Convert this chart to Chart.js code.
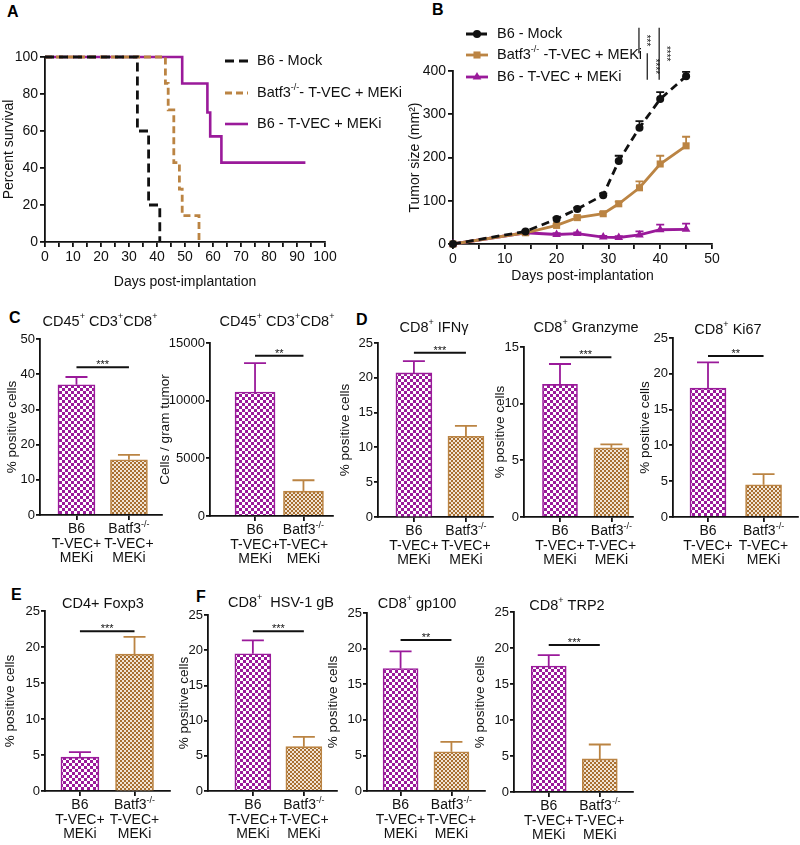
<!DOCTYPE html>
<html>
<head>
<meta charset="utf-8">
<script src="https://cdn.jsdelivr.net/npm/chart.js@4.4.1/dist/chart.umd.min.js"></script>
<style>
  body { margin: 0; background: #fff; font-family: "Liberation Sans", Arial, sans-serif; }
  #fig { position: relative; width: 800px; height: 845px; overflow: hidden; }
  #fig canvas { position: absolute; }
  .lbl { position: absolute; font-weight: bold; font-size: 16px; line-height: 16px; color: #000; }
</style>
</head>
<body>
<div id="fig">
  <div class="lbl" style="left:7px;top:4px">A</div>
  <div class="lbl" style="left:432px;top:2px">B</div>
  <div class="lbl" style="left:9px;top:310px">C</div>
  <div class="lbl" style="left:356px;top:312px">D</div>
  <div class="lbl" style="left:11px;top:587px">E</div>
  <div class="lbl" style="left:196px;top:589px">F</div>
</div>
<script>
const FONT = '"Liberation Sans", Arial, Helvetica, sans-serif';
const BLACK = '#111';
const PURPLE = '#9a1a9a';
const BROWN = '#bb8443';

// A - Kaplan-Meier survival
const survLabels = ['B6 - Mock', 'Batf3^{-/-}- T-VEC + MEKi', 'B6 - T-VEC + MEKi'];
const survMockDays = [0, 33, 37, 41];
const survMock = [100, 60, 20, 0];
const survBatfDays = [0, 43, 44, 46, 48, 49, 55];
const survBatf = [100, 85.7, 71.4, 42.9, 28.6, 14.3, 0];
const survTvecDays = [0, 49, 58, 59, 63, 93];
const survTvec = [100, 85.7, 70, 57.1, 42.9, 42.9];

// B - tumour growth
const tumorLabels = ['B6 - Mock', 'Batf3^{-/-} -T-VEC + MEKi', 'B6 - T-VEC + MEKi'];
const tumorDays = [0, 14, 20, 24, 29, 32, 36, 40, 45];
const tumorMock = [0, 29, 58, 81, 113, 192, 269, 335, 388];
const tumorMockErr = [0, 2, 3, 3, 4, 12, 15, 16, 10];
const tumorBatf = [0, 26, 43, 61, 70, 93, 130, 185, 227];
const tumorBatfErr = [0, 2, 3, 3, 4, 5, 15, 19, 21];
const tumorTvec = [0, 26, 22, 24, 16, 15, 21, 33, 34];
const tumorTvecErr = [0, 2, 3, 3, 3, 3, 8, 12, 13];
// significance brackets (days / mm2)
const tumorSigDay = [35.9, 37.5, 39.8];
const tumorSigFrom = [500, 441, 500];
const tumorSigTo = [441, 380, 380];
const tumorSigStars = ['***', '****', '****'];

// C-F - bar panels
const groupLabels = [['B6', 'T-VEC+', 'MEKi'], ['Batf3^{-/-}', 'T-VEC+', 'MEKi']];
const cd8PctMean = [37.0, 15.7], cd8PctErr = [2.2, 1.4];
const cd8CountMean = [10750, 2150], cd8CountErr = [2500, 950];
const ifngMean = [20.7, 11.6], ifngErr = [1.7, 1.5];
const gzmMean = [11.7, 6.1], gzmErr = [1.8, 0.3];
const ki67Mean = [18.0, 4.5], ki67Err = [3.6, 1.5];
const foxp3Mean = [4.7, 19.0], foxp3Err = [0.7, 2.4];
const gbMean = [19.5, 6.3], gbErr = [1.9, 1.4];
const gp100Mean = [17.2, 5.5], gp100Err = [2.4, 1.4];
const trp2Mean = [17.5, 4.6], trp2Err = [1.5, 2.0];

const fig = document.getElementById('fig');

function addCanvas(x, y, w, h) {
  const c = document.createElement('canvas');
  c.width = w; c.height = h;
  c.style.left = x + 'px'; c.style.top = y + 'px';
  c.style.width = w + 'px'; c.style.height = h + 'px';
  fig.appendChild(c);
  return c;
}

function checker(color, cell, light) {
  const c = document.createElement('canvas');
  c.width = c.height = cell * 2;
  const g = c.getContext('2d');
  g.fillStyle = light;
  g.fillRect(0, 0, cell * 2, cell * 2);
  g.fillStyle = color;
  g.fillRect(0, 0, cell, cell);
  g.fillRect(cell, cell, cell, cell);
  return g.createPattern(c, 'repeat');
}
const purpleFill = checker(PURPLE, 3, '#fff');
const brownFill = checker('#a86f30', 2, '#f1e4d4');

// text with ^{sup} parts
function rich(ctx, str, x, y, size, align) {
  const parts = str.split(/\^\{(.*?)\}/);
  const big = size + 'px ' + FONT, small = Math.round(size * 0.62) + 'px ' + FONT;
  let w = 0;
  parts.forEach((p, i) => { ctx.font = i % 2 ? small : big; w += ctx.measureText(p).width; });
  let px = align === 'left' ? x : x - w / 2;
  ctx.textAlign = 'left';
  ctx.textBaseline = 'middle';
  ctx.fillStyle = BLACK;
  parts.forEach((p, i) => {
    ctx.font = i % 2 ? small : big;
    ctx.fillText(p, px, i % 2 ? y - size * 0.38 : y);
    px += ctx.measureText(p).width;
  });
}

const pts = (xs, ys) => xs.map((x, i) => ({ x: x, y: ys[i] }));

const axisGrid = { drawOnChartArea: false, drawTicks: true, tickLength: 5, color: BLACK, lineWidth: 1.8 };
const axisBorder = { color: BLACK, width: 1.8 };
const tickFont = { family: FONT, size: 14 };
const titleFont = { family: FONT, size: 14 };

Chart.defaults.font.family = FONT;
Chart.defaults.color = BLACK;

// ---------- A ----------
const cvA = addCanvas(0, 42, 430, 249);
new Chart(cvA, {
  type: 'line',
  data: {
    datasets: [
      { data: pts(survMockDays, survMock), borderColor: BLACK, borderDash: [9, 5], borderWidth: 2.8 },
      { data: pts(survBatfDays, survBatf), borderColor: BROWN, borderDash: [7, 4], borderWidth: 2.8 },
      { data: pts(survTvecDays, survTvec), borderColor: PURPLE, borderWidth: 2.6 }
    ].map(d => Object.assign(d, { stepped: 'before', pointRadius: 0, clip: false, fill: false }))
  },
  options: {
    responsive: false, animation: false,
    layout: { padding: { top: 15, right: 105, left: 0, bottom: 0 } },
    plugins: { legend: { display: false }, tooltip: { enabled: false } },
    scales: {
      x: {
        type: 'linear', min: 0, max: 100,
        afterFit: s => { s.height = 49; },
        grid: axisGrid, border: axisBorder,
        ticks: { stepSize: 5, autoSkip: false, maxRotation: 0, font: tickFont, color: BLACK, padding: 2,
          callback: v => (v % 10 === 0 ? String(v) : '') },
        title: { display: true, text: 'Days post-implantation', font: titleFont, color: BLACK, padding: { top: 0, bottom: 0 } }
      },
      y: {
        min: 0, max: 100,
        afterFit: s => { s.width = 45; },
        grid: axisGrid, border: axisBorder,
        ticks: { stepSize: 20, font: tickFont, color: BLACK, padding: 2 },
        title: { display: true, text: 'Percent survival', font: titleFont, color: BLACK, padding: { top: 0.6, bottom: 0 } }
      }
    }
  },
  plugins: [{
    id: 'legendA',
    afterDraw(chart) {
      const ctx = chart.ctx;
      const rows = [19, 51, 82];
      ctx.save();
      chart.data.datasets.forEach((ds, i) => {
        ctx.strokeStyle = ds.borderColor;
        ctx.lineWidth = ds.borderWidth;
        ctx.setLineDash(ds.borderDash || []);
        ctx.beginPath();
        ctx.moveTo(225, rows[i]);
        ctx.lineTo(248, rows[i]);
        ctx.stroke();
        ctx.setLineDash([]);
        rich(ctx, survLabels[i], 257, rows[i], 14.5, 'left');
      });
      ctx.restore();
    }
  }]
});

// ---------- B ----------
const cvB = addCanvas(400, 20, 400, 265);
new Chart(cvB, {
  type: 'line',
  data: {
    datasets: [
      { data: pts(tumorDays, tumorMock), errs: tumorMockErr, borderColor: BLACK, backgroundColor: BLACK,
        borderDash: [8, 5], pointStyle: 'circle', pointRadius: 4 },
      { data: pts(tumorDays, tumorBatf), errs: tumorBatfErr, borderColor: BROWN, backgroundColor: BROWN,
        pointStyle: 'rect', pointRadius: 5 },
      { data: pts(tumorDays, tumorTvec), errs: tumorTvecErr, borderColor: PURPLE, backgroundColor: PURPLE,
        pointStyle: 'triangle', pointRadius: 5 }
    ].map(d => Object.assign(d, { borderWidth: 2.8, pointBorderWidth: 0, clip: false, fill: false }))
  },
  options: {
    responsive: false, animation: false,
    layout: { padding: { top: 51, right: 88, left: 0, bottom: 0 } },
    plugins: { legend: { display: false }, tooltip: { enabled: false } },
    scales: {
      x: {
        type: 'linear', min: 0, max: 50,
        afterFit: s => { s.height = 41; },
        grid: axisGrid, border: axisBorder,
        ticks: { stepSize: 5, autoSkip: false, maxRotation: 0, font: tickFont, color: BLACK, padding: 2,
          callback: v => (v % 10 === 0 ? String(v) : '') },
        title: { display: true, text: 'Days post-implantation', font: titleFont, color: BLACK, padding: { top: 0, bottom: 0 } }
      },
      y: {
        min: 0, max: 400,
        afterFit: s => { s.width = 53; },
        grid: axisGrid, border: axisBorder,
        ticks: { stepSize: 100, font: tickFont, color: BLACK, padding: 2 },
        title: { display: true, text: 'Tumor size (mm²)', font: titleFont, color: BLACK, padding: { top: 6.6, bottom: 0 } }
      }
    }
  },
  plugins: [{
    id: 'errB',
    beforeDatasetsDraw(chart) {
      const ctx = chart.ctx, y = chart.scales.y;
      ctx.save();
      ctx.lineWidth = 1.8;
      chart.data.datasets.forEach((ds, di) => {
        ctx.strokeStyle = ds.borderColor;
        chart.getDatasetMeta(di).data.forEach((pt, i) => {
          if (!ds.errs[i]) return;
          const top = y.getPixelForValue(ds.data[i].y + ds.errs[i]);
          ctx.beginPath();
          ctx.moveTo(pt.x, pt.y); ctx.lineTo(pt.x, top);
          ctx.moveTo(pt.x - 4, top); ctx.lineTo(pt.x + 4, top);
          ctx.stroke();
        });
      });
      ctx.restore();
    },
    afterDraw(chart) {
      const ctx = chart.ctx, x = chart.scales.x, y = chart.scales.y;
      const rows = [14, 35, 57];
      ctx.save();
      chart.data.datasets.forEach((ds, i) => {
        ctx.strokeStyle = ds.borderColor;
        ctx.fillStyle = ds.backgroundColor;
        ctx.lineWidth = 2.8;
        ctx.setLineDash(ds.borderDash || []);
        ctx.beginPath(); ctx.moveTo(66, rows[i]); ctx.lineTo(88, rows[i]); ctx.stroke();
        ctx.setLineDash([]);
        Chart.helpers.drawPoint(ctx, { pointStyle: ds.pointStyle, radius: ds.pointRadius, rotation: 0, borderWidth: 0 }, 77, rows[i]);
        rich(ctx, tumorLabels[i], 97, rows[i], 14.5, 'left');
      });
      ctx.strokeStyle = BLACK;
      ctx.fillStyle = BLACK;
      ctx.lineWidth = 1.2;
      tumorSigDay.forEach((d, i) => {
        const px = x.getPixelForValue(d);
        const y0 = y.getPixelForValue(tumorSigFrom[i]), y1 = y.getPixelForValue(tumorSigTo[i]);
        ctx.beginPath(); ctx.moveTo(px, y0); ctx.lineTo(px, y1); ctx.stroke();
        ctx.save();
        ctx.translate(px + 3, (y0 + y1) / 2);
        ctx.rotate(Math.PI / 2);
        ctx.font = '10px ' + FONT;
        ctx.textAlign = 'center';
        ctx.textBaseline = 'top';
        ctx.fillText(tumorSigStars[i], 0, -9);
        ctx.restore();
      });
      ctx.restore();
    }
  }]
});

// ---------- bar panels ----------
const barPanels = [
  { mean: cd8PctMean, err: cd8PctErr, yMax: 50, yStep: 10, sig: 42, stars: '***',
    title: 'CD45^{+} CD3^{+}CD8^{+}', yTitle: '% positive cells',
    area: [40, 339, 162, 515], titleAt: [100, 322], yTitleX: 12, xRange: [0.305, 2.63], barW: 37 },
  { mean: cd8CountMean, err: cd8CountErr, yMax: 15000, yStep: 5000, sig: 13900, stars: '**',
    title: 'CD45^{+} CD3^{+}CD8^{+}', yTitle: 'Cells / gram tumor',
    area: [210, 343, 333, 516], titleAt: [277, 322], yTitleX: 165, xRange: [0.07, 2.61], barW: 40 },
  { mean: ifngMean, err: ifngErr, yMax: 25, yStep: 5, sig: 23.6, stars: '***',
    title: 'CD8^{+} IFNγ', yTitle: '% positive cells',
    area: [378, 343, 493, 517], titleAt: [434, 328], yTitleX: 345, xRange: [0.31, 2.52], barW: 36 },
  { mean: gzmMean, err: gzmErr, yMax: 15, yStep: 5, sig: 14.1, stars: '***',
    title: 'CD8^{+} Granzyme', yTitle: '% positive cells',
    area: [524, 347, 633, 517], titleAt: [586, 328], yTitleX: 500, xRange: [0.30, 2.42], barW: 35 },
  { mean: ki67Mean, err: ki67Err, yMax: 25, yStep: 5, sig: 22.5, stars: '**',
    title: 'CD8^{+} Ki67', yTitle: '% positive cells',
    area: [673, 338, 798, 517], titleAt: [728, 330], yTitleX: 645, xRange: [0.37, 2.62], barW: 36 },
  { mean: foxp3Mean, err: foxp3Err, yMax: 25, yStep: 5, sig: 22.2, stars: '***',
    title: 'CD4+ Foxp3', yTitle: '% positive cells',
    area: [45, 611, 170, 791], titleAt: [103, 604], yTitleX: 10, xRange: [0.36, 2.65], barW: 38 },
  { mean: gbMean, err: gbErr, yMax: 25, yStep: 5, sig: 22.7, stars: '***',
    title: 'CD8^{+}  HSV-1 gB', yTitle: '% positive cells',
    area: [208, 615, 337, 791], titleAt: [281, 603], yTitleX: 184, xRange: [0.12, 2.65], barW: 36 },
  { mean: gp100Mean, err: gp100Err, yMax: 25, yStep: 5, sig: 21.2, stars: '**',
    title: 'CD8^{+} gp100', yTitle: '% positive cells',
    area: [367, 613, 485, 791], titleAt: [417, 604], yTitleX: 333, xRange: [0.34, 2.66], barW: 35 },
  { mean: trp2Mean, err: trp2Err, yMax: 25, yStep: 5, sig: 20.4, stars: '***',
    title: 'CD8^{+} TRP2', yTitle: '% positive cells',
    area: [514, 612, 633, 792], titleAt: [567, 606], yTitleX: 480, xRange: [0.32, 2.65], barW: 35 }
];

function barChart(p) {
  const [L, T, R, B] = p.area;
  const cx = p.yTitleX - 10, cy = p.titleAt[1] - 12;
  const padR = Math.min(6, 800 - R), xH = 58;
  const cv = addCanvas(cx, cy, R + padR - cx, B + xH - cy);
  new Chart(cv, {
    type: 'bar',
    data: {
      datasets: [{
        data: p.mean.map((v, i) => ({ x: i + 1, y: v })),
        backgroundColor: [purpleFill, brownFill],
        borderColor: [PURPLE, BROWN],
        borderWidth: 1.6,
        barThickness: p.barW
      }]
    },
    options: {
      responsive: false, animation: false,
      layout: { padding: { top: T - cy, right: padR, left: 0, bottom: 0 } },
      plugins: { legend: { display: false }, tooltip: { enabled: false } },
      scales: {
        x: {
          type: 'linear', min: p.xRange[0], max: p.xRange[1], offset: false,
          afterFit: s => { s.height = xH; },
          afterBuildTicks: s => { s.ticks = [{ value: 1 }, { value: 2 }]; },
          grid: Object.assign({}, axisGrid, { offset: false }), border: axisBorder,
          ticks: { display: true, font: tickFont, padding: 3, maxRotation: 0, autoSkip: false, callback: () => '' }
        },
        y: {
          min: 0, max: p.yMax,
          afterFit: s => { s.width = L - cx; },
          grid: Object.assign({}, axisGrid, { tickLength: 4 }), border: axisBorder,
          ticks: { stepSize: p.yStep, font: { family: FONT, size: 13 }, color: BLACK, padding: 1, callback: v => String(v) },
          title: { display: true, text: p.yTitle, font: { family: FONT, size: 13.5 }, color: BLACK, padding: { top: 1.9, bottom: 0 } }
        }
      }
    },
    plugins: [{
      id: 'barDeco',
      afterDatasetsDraw(chart) {
        const ctx = chart.ctx, y = chart.scales.y, bars = chart.getDatasetMeta(0).data;
        ctx.save();
        ctx.lineWidth = 1.8;
        bars.forEach((bar, i) => {
          const top = y.getPixelForValue(p.mean[i] + p.err[i]);
          ctx.strokeStyle = i ? BROWN : PURPLE;
          ctx.beginPath();
          ctx.moveTo(bar.x, bar.y); ctx.lineTo(bar.x, top);
          ctx.moveTo(bar.x - 11, top); ctx.lineTo(bar.x + 11, top);
          ctx.stroke();
        });
        const sy = y.getPixelForValue(p.sig);
        ctx.strokeStyle = BLACK;
        ctx.lineWidth = 2;
        ctx.beginPath(); ctx.moveTo(bars[0].x, sy); ctx.lineTo(bars[1].x, sy); ctx.stroke();
        ctx.font = '11px ' + FONT;
        ctx.fillStyle = BLACK;
        ctx.textAlign = 'center';
        ctx.textBaseline = 'alphabetic';
        ctx.fillText(p.stars, (bars[0].x + bars[1].x) / 2, sy + 1);
        rich(ctx, p.title, p.titleAt[0] - cx, p.titleAt[1] - cy, 14.5);
        // category labels under the axis
        const xs = chart.scales.x, base = chart.chartArea.bottom;
        groupLabels.forEach((lines, i) => {
          const px = xs.getPixelForValue(i + 1);
          lines.forEach((t, k) => rich(ctx, t, px, base + 14.5 + k * 14.5, 14));
        });
        ctx.restore();
      }
    }]
  });
}

barPanels.forEach(barChart);
</script>
</body>
</html>
